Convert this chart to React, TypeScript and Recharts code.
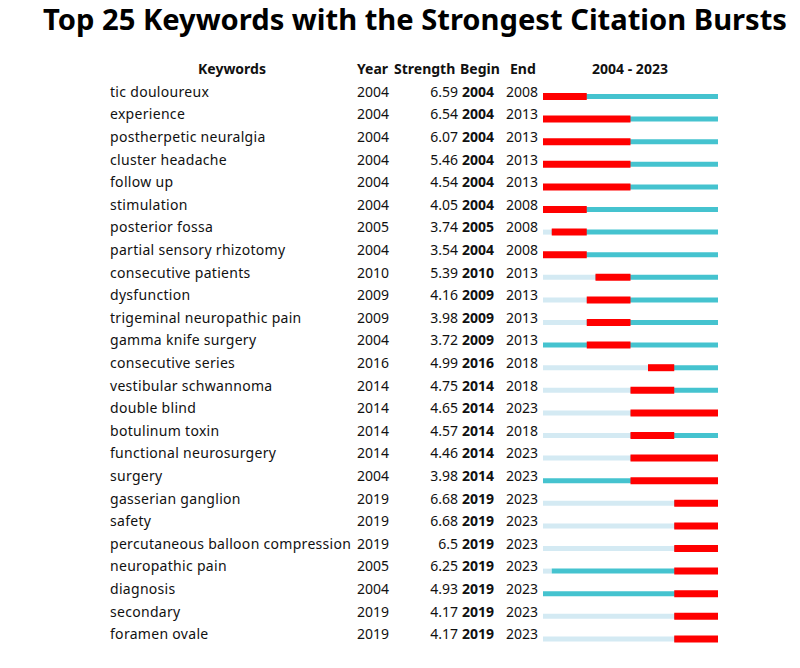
import React from "react";
import { BarChart, Bar, XAxis, YAxis } from "recharts";

// Top 25 keyword citation bursts (CiteSpace-style burst table)
const keywords = [
  "tic douloureux",
  "experience",
  "postherpetic neuralgia",
  "cluster headache",
  "follow up",
  "stimulation",
  "posterior fossa",
  "partial sensory rhizotomy",
  "consecutive patients",
  "dysfunction",
  "trigeminal neuropathic pain",
  "gamma knife surgery",
  "consecutive series",
  "vestibular schwannoma",
  "double blind",
  "botulinum toxin",
  "functional neurosurgery",
  "surgery",
  "gasserian ganglion",
  "safety",
  "percutaneous balloon compression",
  "neuropathic pain",
  "diagnosis",
  "secondary",
  "foramen ovale",
];
const years = [
  2004, 2004, 2004, 2004, 2004, 2004, 2005, 2004, 2010, 2009, 2009, 2004, 2016,
  2014, 2014, 2014, 2014, 2004, 2019, 2019, 2019, 2005, 2004, 2019, 2019,
];
const strengths = [
  "6.59", "6.54", "6.07", "5.46", "4.54", "4.05", "3.74", "3.54", "5.39", "4.16",
  "3.98", "3.72", "4.99", "4.75", "4.65", "4.57", "4.46", "3.98", "6.68", "6.68",
  "6.5", "6.25", "4.93", "4.17", "4.17",
];
const begins = [
  2004, 2004, 2004, 2004, 2004, 2004, 2005, 2004, 2010, 2009, 2009, 2009, 2016,
  2014, 2014, 2014, 2014, 2014, 2019, 2019, 2019, 2019, 2019, 2019, 2019,
];
const ends = [
  2008, 2013, 2013, 2013, 2013, 2008, 2008, 2008, 2013, 2013, 2013, 2013, 2018,
  2018, 2023, 2018, 2023, 2023, 2023, 2023, 2023, 2023, 2023, 2023, 2023,
];
const firstYear = 2004;
const lastYear = 2023;

const span = lastYear - firstYear + 1;
const rows = keywords.map((k, i) => ({
  keyword: k,
  before: years[i] - firstYear,
  after: lastYear + 1 - years[i],
  burst: [begins[i] - firstYear, ends[i] + 1 - firstYear],
}));

const FONT = "'Noto Sans', sans-serif";

function RowTick(props: any) {
  const { y, payload } = props;
  const i = keywords.indexOf(payload.value);
  if (i < 0) return null;
  const ty = y + 0.5;
  return (
    <g fontFamily={FONT} fontSize={14} fill="#111">
      <text x={110} y={ty} letterSpacing={0.3}>{keywords[i]}</text>
      <text x={357} y={ty}>{years[i]}</text>
      <text x={458} y={ty} textAnchor="end">{strengths[i]}</text>
      <text x={462} y={ty} fontWeight="bold">{begins[i]}</text>
      <text x={506} y={ty}>{ends[i]}</text>
    </g>
  );
}

export default function App() {
  return (
    <div
      style={{
        position: "absolute",
        left: 0,
        top: 0,
        width: 800,
        height: 668,
        background: "#fff",
      }}
    >
      <BarChart
        width={800}
        height={668}
        data={rows}
        layout="vertical"
        margin={{ top: 85, right: 82, bottom: 18, left: 0 }}
      >
        <XAxis type="number" domain={[0, span]} hide />
        <YAxis
          yAxisId="bg"
          type="category"
          dataKey="keyword"
          width={543}
          axisLine={false}
          tickLine={false}
          tick={<RowTick />}
          interval={0}
        />
        <YAxis yAxisId="burst" type="category" dataKey="keyword" hide />
        <Bar yAxisId="bg" dataKey="before" stackId="bg" fill="#d4eaf3" barSize={5} isAnimationActive={false} />
        <Bar yAxisId="bg" dataKey="after" stackId="bg" fill="#45c3cf" barSize={5} isAnimationActive={false} />
        <Bar yAxisId="burst" dataKey="burst" fill="#ff0000" barSize={7} isAnimationActive={false} />
      </BarChart>
      <svg
        width={800}
        height={668}
        style={{ position: "absolute", left: 0, top: 0, pointerEvents: "none" }}
      >
        <text
          x={415}
          y={30}
          textAnchor="middle"
          fontFamily={FONT}
          fontWeight="bold"
          fontSize={28}
          textLength={744}
          lengthAdjust="spacingAndGlyphs"
          fill="#000"
        >
          Top 25 Keywords with the Strongest Citation Bursts
        </text>
        <g fontFamily={FONT} fontWeight="bold" fontSize={14} fill="#111">
          <text x={232} y={74} textAnchor="middle">Keywords</text>
          <text x={357} y={74}>Year</text>
          <text x={394} y={74}>Strength</text>
          <text x={460} y={74}>Begin</text>
          <text x={510} y={74}>End</text>
          <text x={630} y={74} textAnchor="middle">{`${firstYear} - ${lastYear}`}</text>
        </g>
      </svg>
    </div>
  );
}
